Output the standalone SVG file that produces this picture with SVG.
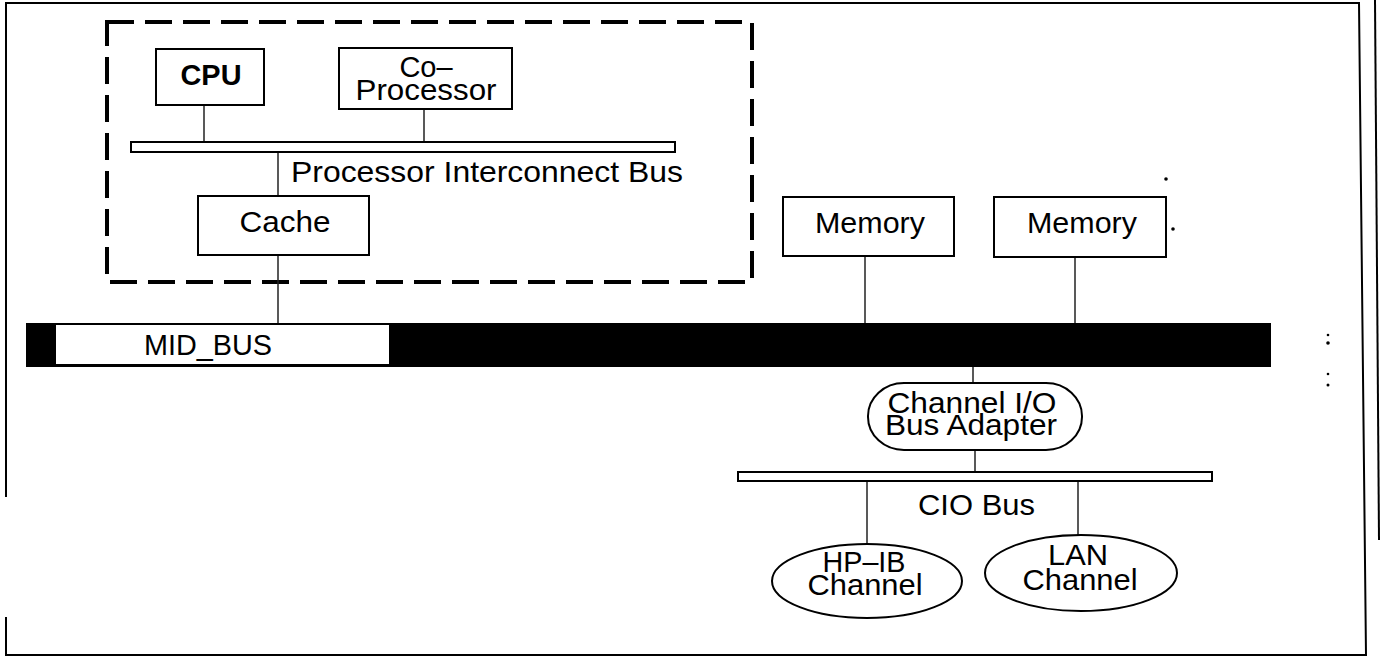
<svg xmlns="http://www.w3.org/2000/svg" width="1381" height="663" viewBox="0 0 1381 663">
<style>
.box{fill:#fff;stroke:#000;stroke-width:2}
.bus{fill:#fff;stroke:#000;stroke-width:2}
.con{stroke:#222;stroke-width:1.5;fill:none}
.frame{stroke:#000;stroke-width:2;fill:none}
.t{font-family:"Liberation Sans",Arial,sans-serif;font-size:29px;fill:#000;text-anchor:middle}
.tl{font-family:"Liberation Sans",Arial,sans-serif;font-size:29px;fill:#000}
</style>
<rect width="1381" height="663" fill="#fff"/>
<g id="frame">
<polyline class="frame" points="6,497 6,3 1359,3 1366,655 6,655 6,617"/>
<line class="frame" x1="1375" y1="0" x2="1379" y2="540"/>
</g>
<g id="group-box">
<rect x="107" y="22" width="645" height="260" fill="none" stroke="#000" stroke-width="4" stroke-dasharray="27,11"/>
</g>
<g id="connectors">
<line class="con" x1="204" y1="105" x2="204" y2="142"/>
<line class="con" x1="424" y1="109" x2="424" y2="142"/>
<line class="con" x1="278" y1="152" x2="278" y2="196"/>
<line class="con" x1="278" y1="255" x2="278" y2="323"/>
<line class="con" x1="865" y1="256" x2="865" y2="323"/>
<line class="con" x1="1075" y1="257" x2="1075" y2="323"/>
<line class="con" x1="973" y1="367" x2="973" y2="383"/>
<line class="con" x1="975" y1="450" x2="975" y2="472"/>
<line class="con" x1="867" y1="481" x2="867" y2="545"/>
<line class="con" x1="1078" y1="481" x2="1078" y2="535"/>
</g>
<g id="cpu">
<rect class="box" x="156" y="49" width="108" height="56"/>
<text class="t" x="211" y="85" font-weight="bold" textLength="61" lengthAdjust="spacingAndGlyphs">CPU</text>
</g>
<g id="coprocessor">
<rect class="box" x="339" y="48" width="173" height="61"/>
<text class="t" x="426" y="77">Co–</text>
<text class="t" x="426" y="100" textLength="141" lengthAdjust="spacingAndGlyphs">Processor</text>
</g>
<g id="processor-bus">
<rect class="bus" x="131" y="142" width="544" height="10"/>
<text class="tl" x="291" y="182" textLength="392" lengthAdjust="spacingAndGlyphs">Processor Interconnect Bus</text>
</g>
<g id="cache">
<rect class="box" x="198" y="196" width="171" height="59"/>
<text class="t" x="285" y="232" textLength="91" lengthAdjust="spacingAndGlyphs">Cache</text>
</g>
<g id="memory1">
<rect class="box" x="783" y="197" width="171" height="59"/>
<text class="t" x="870" y="233" textLength="110" lengthAdjust="spacingAndGlyphs">Memory</text>
</g>
<g id="memory2">
<rect class="box" x="994" y="197" width="172" height="60"/>
<text class="t" x="1082" y="233" textLength="110" lengthAdjust="spacingAndGlyphs">Memory</text>
</g>
<g id="marks">
<circle cx="1166" cy="179" r="1.8" fill="#000"/>
<circle cx="1173" cy="229" r="1.8" fill="#000"/>
<circle cx="1328" cy="335" r="1.3" fill="#000"/>
<circle cx="1328" cy="343" r="1.8" fill="#000"/>
<circle cx="1328" cy="374" r="1.3" fill="#000"/>
<circle cx="1328" cy="385" r="1.5" fill="#000"/>
</g>
<g id="mid-bus">
<rect x="26" y="323" width="1245" height="44" fill="#000"/>
<rect x="56" y="325" width="333" height="39" fill="#fff"/>
<text class="tl" x="144" y="355" textLength="128" lengthAdjust="spacingAndGlyphs">MID_BUS</text>
</g>
<g id="adapter">
<rect class="box" x="868" y="383" width="214" height="67" rx="36" ry="33"/>
<text class="t" x="972" y="413" textLength="169" lengthAdjust="spacingAndGlyphs">Channel I/O</text>
<text class="t" x="971" y="435" textLength="172" lengthAdjust="spacingAndGlyphs">Bus Adapter</text>
</g>
<g id="cio-bus">
<rect class="bus" x="738" y="472" width="474" height="9"/>
<text class="tl" x="918" y="515" textLength="117" lengthAdjust="spacingAndGlyphs">CIO Bus</text>
</g>
<g id="hpib">
<ellipse class="box" cx="867" cy="581" rx="95" ry="37"/>
<text class="t" x="864" y="572" textLength="83" lengthAdjust="spacingAndGlyphs">HP–IB</text>
<text class="t" x="865" y="595" textLength="115" lengthAdjust="spacingAndGlyphs">Channel</text>
</g>
<g id="lan">
<ellipse class="box" cx="1081" cy="573" rx="96" ry="38"/>
<text class="t" x="1078" y="565" textLength="60" lengthAdjust="spacingAndGlyphs">LAN</text>
<text class="t" x="1080" y="590" textLength="115" lengthAdjust="spacingAndGlyphs">Channel</text>
</g>
</svg>
